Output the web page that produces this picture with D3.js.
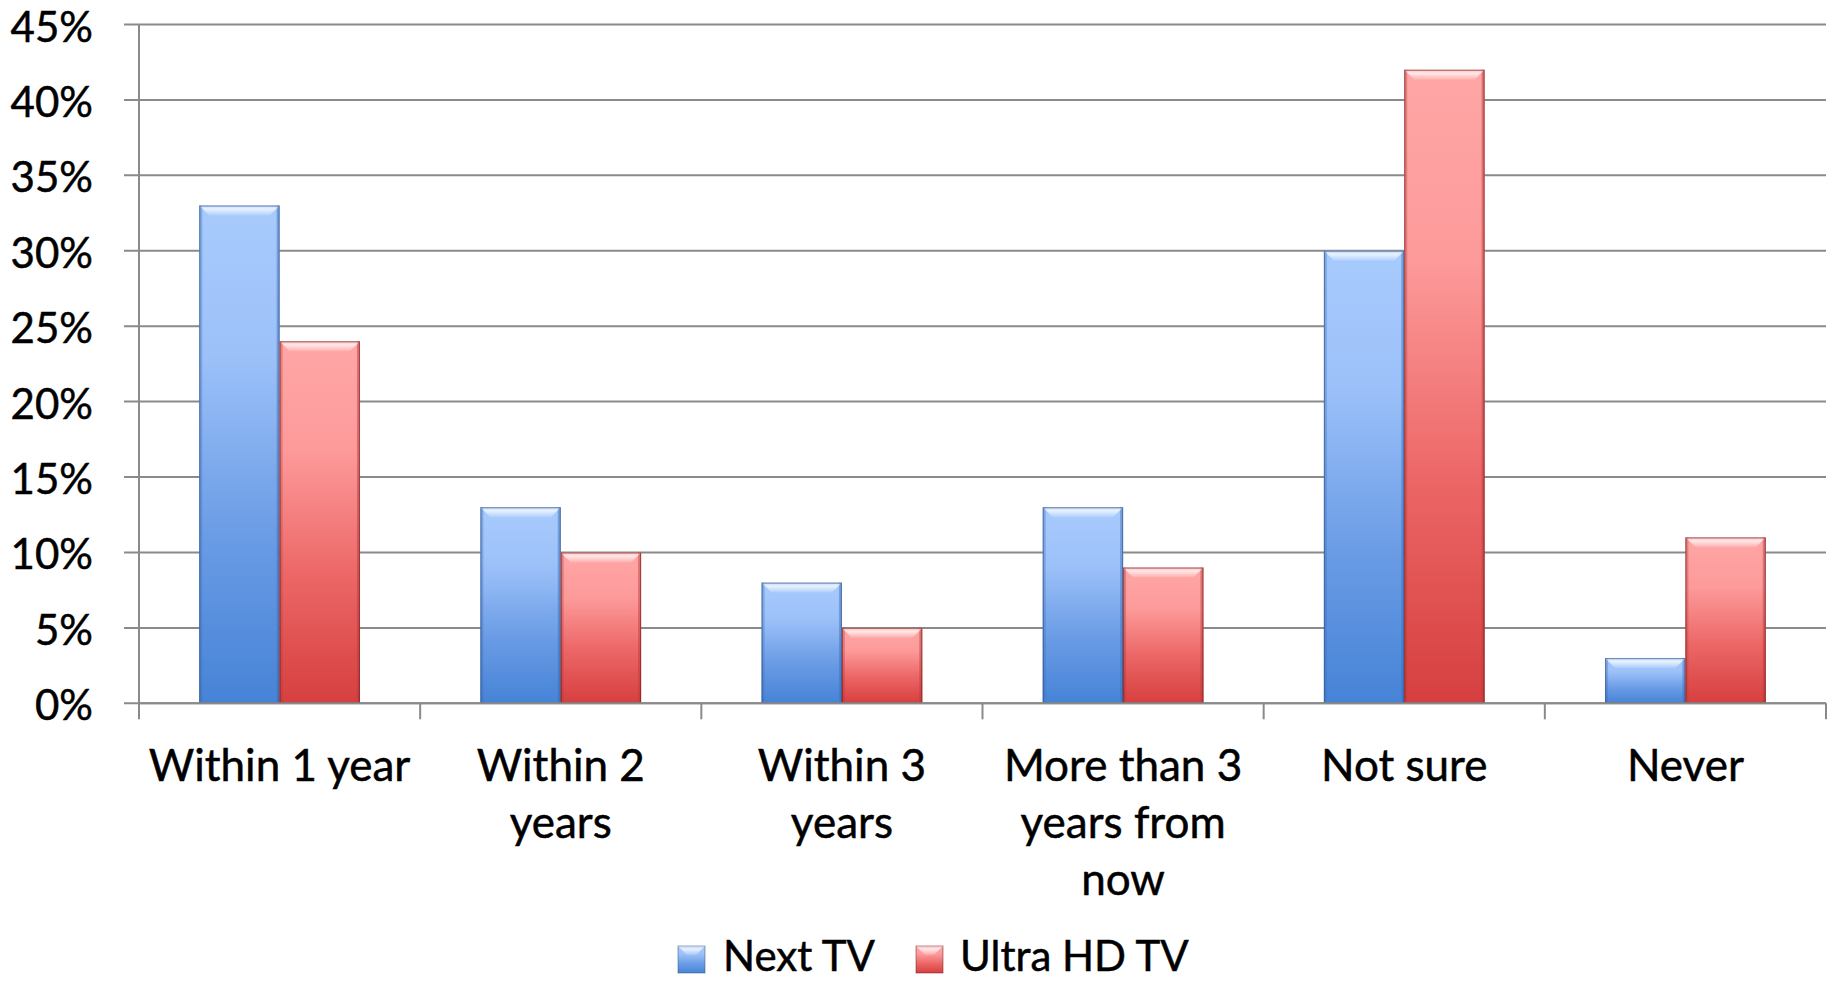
<!DOCTYPE html>
<html>
<head>
<meta charset="utf-8">
<script src="https://cdn.jsdelivr.net/npm/d3@7"></script>
<style>
  html, body { margin: 0; padding: 0; background: #fff; }
  svg { display: block; }
  text { font-family: Lato, "Open Sans", sans-serif; fill: #000; stroke: #000; stroke-width: 0.5px; }
</style>
</head>
<body>
<svg id="chart" width="1832" height="981"></svg>
<script>
// Data (percent values)
const categories = [
  ["Within 1 year"],
  ["Within 2", "years"],
  ["Within 3", "years"],
  ["More than 3", "years from", "now"],
  ["Not sure"],
  ["Never"]
];
const catKeys = ["Within 1 year", "Within 2 years", "Within 3 years", "More than 3 years from now", "Not sure", "Never"];
const seriesNames = ["Next TV", "Ultra HD TV"];
const nextTVValues = [33, 13, 8, 13, 30, 3];
const ultraHDValues = [24, 10, 5, 9, 42, 11];
const yTicks = [0, 5, 10, 15, 20, 25, 30, 35, 40, 45];

const svg = d3.select("#chart");
const pLeft = 139, pRight = 1826, pTop = 24.5, pBottom = 703.3;
const FS = 44;

const x0 = d3.scaleBand().domain(catKeys).range([pLeft, pRight]).padding(0);
const x1 = d3.scaleBand().domain(seriesNames).range([0, x0.bandwidth()]).paddingInner(0).paddingOuter(0.75);
const y = d3.scaleLinear().domain([0, 45]).range([pBottom, pTop]);

const defs = svg.append("defs");
const palettes = {
  "Next TV": { stops: ["#A8CBFD", "#9CC1F9", "#6C9DE6", "#4683D6"], edge: "#2f4f80", side: "#3c6fb8" },
  "Ultra HD TV": { stops: ["#FFA6A6", "#FD9A9A", "#EC6666", "#D63F3F"], edge: "#6e1c1c", side: "#b83a3a" }
};
seriesNames.forEach((s, i) => {
  const g = defs.append("linearGradient").attr("id", "grad" + i).attr("x1", 0).attr("y1", 0).attr("x2", 0).attr("y2", 1);
  [0, 0.3, 0.65, 1].forEach((o, k) => g.append("stop").attr("offset", o).attr("stop-color", palettes[s].stops[k]));
});
const hl = defs.append("linearGradient").attr("id", "bevelTop").attr("x1", 0).attr("y1", 0).attr("x2", 0).attr("y2", 1);
hl.append("stop").attr("offset", 0).attr("stop-color", "#fff").attr("stop-opacity", 0.25);
hl.append("stop").attr("offset", 0.35).attr("stop-color", "#fff").attr("stop-opacity", 0.75);
hl.append("stop").attr("offset", 1).attr("stop-color", "#fff").attr("stop-opacity", 0.1);

// Gridlines with left tick marks
svg.append("g").selectAll("line").data(yTicks).join("line")
  .attr("x1", pLeft - 15).attr("x2", pRight)
  .attr("y1", d => y(d)).attr("y2", d => y(d))
  .attr("stroke", "#8a8a8a").attr("stroke-width", 2);

// Y axis line
svg.append("line").attr("x1", pLeft).attr("x2", pLeft).attr("y1", pTop).attr("y2", pBottom)
  .attr("stroke", "#8a8a8a").attr("stroke-width", 2);

// Y tick labels
svg.append("g").selectAll("text").data(yTicks).join("text")
  .attr("x", 93).attr("y", d => y(d) + 17)
  .attr("text-anchor", "end").attr("font-size", 42)
  .text(d => d + "%");

// X tick marks at category boundaries
const bounds = catKeys.map(c => x0(c)).concat([pRight]);
svg.append("g").selectAll("line").data(bounds).join("line")
  .attr("x1", d => d).attr("x2", d => d)
  .attr("y1", pBottom).attr("y2", pBottom + 16)
  .attr("stroke", "#8a8a8a").attr("stroke-width", 2);

// Bars
const rows = [];
catKeys.forEach((c, i) => {
  rows.push({ cat: c, s: seriesNames[0], si: 0, v: nextTVValues[i] });
  rows.push({ cat: c, s: seriesNames[1], si: 1, v: ultraHDValues[i] });
});
const bevel = 10, sideW = 3;
const bw = x1.bandwidth();
const bars = svg.append("g").selectAll("g").data(rows).join("g")
  .attr("transform", d => `translate(${x0(d.cat) + x1(d.s)},0)`);
bars.append("rect")
  .attr("x", 0).attr("y", d => y(d.v)).attr("width", bw).attr("height", d => y(0) - y(d.v))
  .attr("fill", d => `url(#grad${d.si})`);
bars.append("rect")
  .attr("x", 0).attr("y", d => y(d.v)).attr("width", sideW).attr("height", d => y(0) - y(d.v))
  .attr("fill", d => palettes[d.s].side).attr("opacity", 0.35);
bars.append("rect")
  .attr("x", bw - sideW).attr("y", d => y(d.v)).attr("width", sideW).attr("height", d => y(0) - y(d.v))
  .attr("fill", d => palettes[d.s].side).attr("opacity", 0.45);
bars.append("path")
  .attr("d", d => {
    const t = y(d.v);
    return `M0,${t} L${bw},${t} L${bw - bevel},${t + bevel} L${bevel},${t + bevel} Z`;
  })
  .attr("fill", "url(#bevelTop)");
bars.append("rect")
  .attr("x", 0.5).attr("y", d => y(d.v) + 0.5).attr("width", bw - 1).attr("height", d => y(0) - y(d.v) - 1)
  .attr("fill", "none").attr("stroke", d => palettes[d.s].edge).attr("stroke-opacity", 0.55).attr("stroke-width", 1.2);

// Axis baseline on top of bars
svg.append("line").attr("x1", pLeft).attr("x2", pRight).attr("y1", pBottom).attr("y2", pBottom)
  .attr("stroke", "#8a8a8a").attr("stroke-width", 2);

// Category labels
const labG = svg.append("g");
categories.forEach((lines, i) => {
  const cx = x0(catKeys[i]) + x0.bandwidth() / 2;
  lines.forEach((ln, k) => {
    labG.append("text").attr("x", cx).attr("y", 781 + k * 57)
      .attr("text-anchor", "middle").attr("font-size", FS).text(ln);
  });
});

// Legend
const legendItems = [
  { name: seriesNames[0], si: 0, sx: 678, tx: 723 },
  { name: seriesNames[1], si: 1, sx: 916, tx: 960 }
];
const lg = svg.append("g").selectAll("g").data(legendItems).join("g");
lg.append("rect").attr("x", d => d.sx).attr("y", 946).attr("width", 27).attr("height", 27)
  .attr("fill", d => `url(#grad${d.si})`)
  .attr("stroke", d => palettes[d.name].edge).attr("stroke-opacity", 0.5).attr("stroke-width", 1);
lg.append("path")
  .attr("d", d => `M${d.sx},946 L${d.sx + 27},946 L${d.sx + 18},955 L${d.sx + 9},955 Z`)
  .attr("fill", "url(#bevelTop)");
lg.append("text").attr("x", d => d.tx).attr("y", 971).attr("font-size", 42).text(d => d.name);
</script>
</body>
</html>
